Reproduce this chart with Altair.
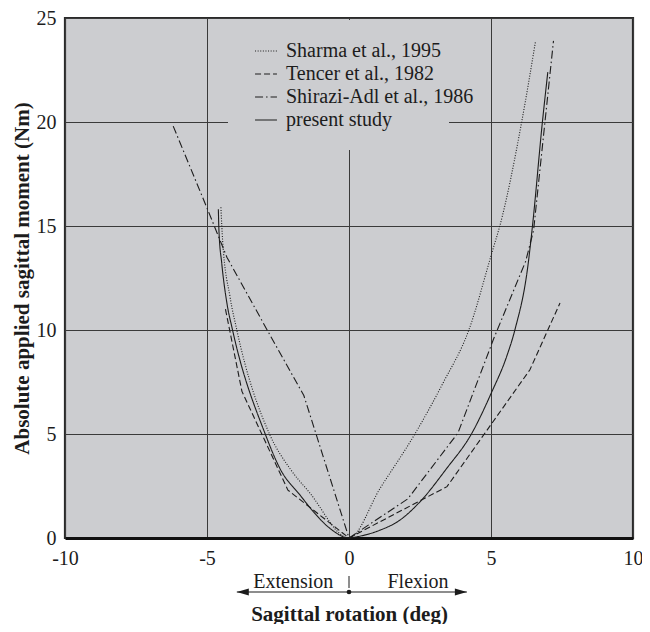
import altair as alt
import pandas as pd

# ---- data ----
series_names = ["Sharma et al., 1995", "Tencer et al., 1982",
                "Shirazi-Adl et al., 1986", "present study"]

sharma_x = [-4.51, -4.45, -4.19, -3.95, -2.80, -2.06, -1.40, 0.0,
            1.10, 2.32, 3.31, 4.22, 5.05, 5.31, 6.08, 6.57]
sharma_y = [15.9, 14.3, 11.6, 10.0, 5.0, 3.3, 2.2, 0.0,
            2.4, 5.0, 7.45, 10.0, 13.8, 15.0, 20.0, 23.9]

tencer_x = [-4.35, -3.77, -2.15, 0.0, 3.45, 6.37, 7.43]
tencer_y = [11.0, 7.05, 2.3, 0.0, 2.47, 8.09, 11.3]

shirazi_x = [-6.19, -5.01, -4.30, -2.80, -1.59, 0.0, 2.07, 3.84, 5.10,
             6.22, 6.50, 6.90, 7.20]
shirazi_y = [19.8, 15.9, 13.5, 9.8, 6.85, 0.0, 1.88, 5.06, 9.6,
             13.3, 14.8, 20.0, 23.9]

present_x = [-4.60, -4.58, -4.48, -4.30, -4.10, -2.95, -2.42, -1.71,
             -1.24, -0.65, 0.0, 0.24, 1.06, 1.77, 2.54, 3.42, 4.31, 5.02,
             5.55, 5.84, 6.31, 6.46, 6.81, 7.00]
present_y = [15.8, 14.8, 13.2, 11.3, 10.0, 5.0, 3.31, 2.04,
             1.24, 0.44, 0.0, 0.05, 0.36, 0.84, 1.8, 3.31, 5.0, 7.0,
             8.72, 10.0, 13.2, 15.0, 20.0, 22.4]

x_ticks = [-10, -5, 0, 5, 10]
y_ticks = [0, 5, 10, 15, 20, 25]

# annotation below the axis (data units on x)
arrow_left = -3.95
arrow_right = 4.15
arrow_origin = 0.0
ext_label_x = -1.96
flex_label_x = 2.43

# ---- build tables ----
def frame(name, xs, ys):
    return pd.DataFrame({"series": name, "x": xs, "y": ys})

smooth_df = pd.concat([frame(series_names[0], sharma_x, sharma_y),
                       frame(series_names[3], present_x, present_y)])
linear_df = pd.concat([frame(series_names[1], tencer_x, tencer_y),
                       frame(series_names[2], shirazi_x, shirazi_y)])

BG = "#cccdd0"
INK = "#1c1c1c"
SERIF = "Liberation Serif"

PLOT_W, PLOT_H = 568, 520
ARROW_Y = 574

xscale = alt.Scale(domain=[-10, 10], nice=False)
yscale = alt.Scale(domain=[0, 25], nice=False)

dash_scale = alt.Scale(domain=series_names,
                       range=[[1, 1.6], [6, 3], [8, 3, 1.5, 3], [1, 0]])
width_scale = alt.Scale(domain=series_names, range=[1.1, 1.1, 1.1, 2.3])

legend = alt.Legend(title=None, orient="none", legendX=189, legendY=21,
                    padding=0, labelFont=SERIF, labelFontSize=20,
                    labelColor=INK, labelLimit=0,
                    symbolSize=480, symbolType="stroke", symbolStrokeColor=INK,
                    rowPadding=1, labelOffset=8)

x_enc = alt.X("x:Q", scale=xscale,
              axis=alt.Axis(values=x_ticks, title="Sagittal rotation (deg)",
                            grid=True, ticks=False, labelFlush=False,
                            labelExpr="'' + datum.value",
                            labelPadding=10, titlePadding=35))
y_enc = alt.Y("y:Q", scale=yscale,
              axis=alt.Axis(values=y_ticks,
                            title="Absolute applied sagittal moment (Nm)",
                            grid=True, ticks=False, domain=False,
                            labelExpr="'' + datum.value",
                            labelPadding=9, titlePadding=4))

common = dict(
    x=x_enc, y=y_enc,
    strokeDash=alt.StrokeDash("series:N", scale=dash_scale, legend=legend),
    strokeWidth=alt.StrokeWidth("series:N", scale=width_scale, legend=legend),
)

# patch of background hiding grid lines behind the legend
cover = alt.Chart(alt.Data(values=[{}])).mark_rect(fill=BG).encode(
    x=alt.value(163), x2=alt.value(384), y=alt.value(2), y2=alt.value(132))

smooth = alt.Chart(smooth_df).mark_line(interpolate="monotone", color=INK).encode(**common)
linear = alt.Chart(linear_df).mark_line(color=INK).encode(**common)

# annotation: Extension <-> Flexion arrows
arrow_df = pd.DataFrame({"x1": [arrow_left], "x2": [arrow_right]})
arrow_line = alt.Chart(arrow_df).mark_rule(color=INK, strokeWidth=1.1).encode(
    x=alt.X("x1:Q", scale=xscale), x2="x2:Q", y=alt.value(ARROW_Y))

heads_df = pd.DataFrame({"x": [arrow_left, arrow_right],
                         "side": ["left", "right"]})
head_l = alt.Chart(heads_df[heads_df.side == "left"]).mark_point(
    shape="M 0 0 L 2 -0.6 L 2 0.6 Z", filled=True, size=144, color=INK, opacity=1
).encode(x=alt.X("x:Q", scale=xscale), y=alt.value(ARROW_Y))
head_r = alt.Chart(heads_df[heads_df.side == "right"]).mark_point(
    shape="M 0 0 L -2 -0.6 L -2 0.6 Z", filled=True, size=144, color=INK, opacity=1
).encode(x=alt.X("x:Q", scale=xscale), y=alt.value(ARROW_Y))

origin_df = pd.DataFrame({"x": [arrow_origin]})
origin_dot = alt.Chart(origin_df).mark_point(
    shape="circle", filled=True, size=22, color=INK, opacity=1
).encode(x=alt.X("x:Q", scale=xscale), y=alt.value(ARROW_Y))
origin_tick = alt.Chart(origin_df).mark_rule(color=INK, strokeWidth=1).encode(
    x=alt.X("x:Q", scale=xscale), y=alt.value(ARROW_Y - 16),
    y2=alt.value(ARROW_Y - 4))

labels_df = pd.DataFrame({"x": [ext_label_x, flex_label_x],
                          "text": ["Extension", "Flexion"]})
side_labels = alt.Chart(labels_df).mark_text(
    font=SERIF, fontSize=20, color=INK, baseline="middle", align="center"
).encode(x=alt.X("x:Q", scale=xscale), y=alt.value(ARROW_Y - 10), text="text:N")

chart = alt.layer(
    cover, linear, smooth, arrow_line, head_l, head_r, origin_dot,
    origin_tick, side_labels
).properties(
    width=PLOT_W, height=PLOT_H,
    padding={"left": 57, "top": 10, "right": 9, "bottom": 86},
    autosize=alt.AutoSizeParams(type="none"),
).configure_view(
    fill=BG, stroke="#2a2a2a", strokeWidth=2.2
).configure_axis(
    labelFont=SERIF, labelFontSize=20, labelColor=INK,
    titleFont=SERIF, titleFontSize=21, titleFontWeight="bold", titleColor=INK,
    gridColor="#3a3a3a", gridWidth=1, gridOpacity=1,
    domainColor="#111111", domainWidth=3,
).configure_axisX(domain=True)

chart.save("out.html", embed_options={"renderer": "svg", "actions": False})
